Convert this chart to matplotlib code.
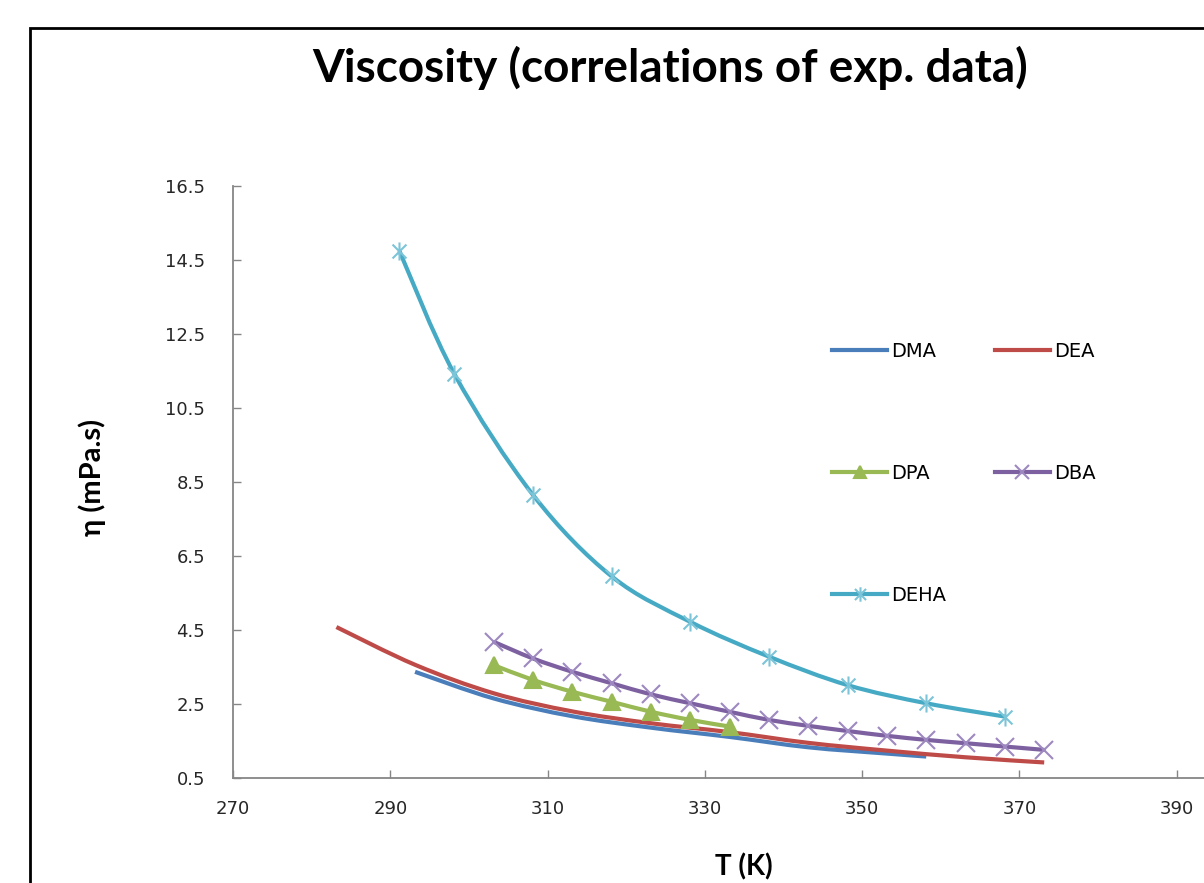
import numpy as np
import matplotlib.pyplot as plt
from matplotlib.path import Path
from matplotlib.patches import PathPatch, Rectangle
from matplotlib.lines import Line2D

# values (T in K, viscosity in mPa.s)
T_DMA = [293.15, 303.15, 313.15, 323.15, 333.15, 343.15, 353.15, 358.15]
eta_DMA = [3.37, 2.65, 2.17, 1.86, 1.61, 1.33, 1.16, 1.08]

T_DEA = [283.15, 293.15, 303.15, 313.15, 323.15, 333.15, 343.15, 353.15, 363.15, 373.15]
eta_DEA = [4.58, 3.56, 2.79, 2.30, 1.98, 1.74, 1.45, 1.24, 1.06, 0.92]

T_DPA = [303.15, 308.15, 313.15, 318.15, 323.15, 328.15, 333.15]
eta_DPA = [3.55, 3.15, 2.83, 2.56, 2.29, 2.07, 1.89]

T_DBA = [303.15, 308.15, 313.15, 318.15, 323.15, 328.15, 333.15, 338.15,
         343.15, 348.15, 353.15, 358.15, 363.15, 368.15, 373.15]
eta_DBA = [4.18, 3.73, 3.37, 3.06, 2.76, 2.52, 2.29, 2.07,
           1.91, 1.77, 1.64, 1.53, 1.44, 1.35, 1.26]

T_DEHA = [291.15, 298.15, 308.15, 318.15, 328.15, 338.15, 348.15, 358.15, 368.15]
eta_DEHA = [14.75, 11.42, 8.15, 5.95, 4.72, 3.78, 3.01, 2.52, 2.16]

x_ticks = [270, 290, 310, 330, 350, 370, 390]
y_ticks = [0.5, 2.5, 4.5, 6.5, 8.5, 10.5, 12.5, 14.5, 16.5]


def smooth_path(x, y):
    # Excel-like smoothed line: bezier segments through the data points
    p = np.column_stack([x, y])
    n = len(p)
    verts = [p[0]]
    codes = [Path.MOVETO]
    for i in range(n - 1):
        p0 = p[max(i - 1, 0)]
        p3 = p[min(i + 2, n - 1)]
        verts += [p[i] + (p[i + 1] - p0) / 6, p[i + 1] - (p3 - p[i]) / 6, p[i + 1]]
        codes += [Path.CURVE4] * 3
    return Path(verts, codes)


star = Path([(-1, -1), (1, 1), (-1, 1), (1, -1), (0, -1.3), (0, 1.3)],
            [Path.MOVETO, Path.LINETO, Path.MOVETO, Path.LINETO, Path.MOVETO, Path.LINETO])

series = [
    ("DMA", T_DMA, eta_DMA, "#4a7ebb", None, None),
    ("DEA", T_DEA, eta_DEA, "#be4b48", None, None),
    ("DPA", T_DPA, eta_DPA, "#98b954", "^", "#98b954"),
    ("DBA", T_DBA, eta_DBA, "#7d60a0", "x", "#9d88c0"),
    ("DEHA", T_DEHA, eta_DEHA, "#46aac5", star, "#7cc4d8"),
]

fig = plt.figure(figsize=(12.04, 8.83), dpi=100)
ax = fig.add_axes([233 / 1204, 105 / 883, 1101 / 1204, 592 / 883])

handles = {}
for name, tx, ty, col, mk, mcol in series:
    ax.add_patch(PathPatch(smooth_path(tx, ty), fill=False, edgecolor=col,
                           lw=3, capstyle='butt', zorder=2))
    ms = 11 if mk == "^" else 13
    if mk is not None:
        ax.plot(tx, ty, linestyle='none', marker=mk, ms=ms, color=mcol,
                mec=mcol, mew=1.5, zorder=3)
    handles[name] = Line2D([], [], color=col, lw=3, marker=mk, ms=ms * 0.8,
                           mfc=mcol, mec=mcol, mew=1.5)

ax.set_xlim(270, 410)
ax.set_ylim(0.5, 16.5)
ax.set_xticks(x_ticks)
ax.set_yticks(y_ticks)
ax.set_yticklabels([f"{v:.1f}" for v in y_ticks])
for s in ['top', 'right']:
    ax.spines[s].set_visible(False)
for s in ['left', 'bottom']:
    ax.spines[s].set_color('#868686')
    ax.spines[s].set_linewidth(1.3)
ax.tick_params(direction='in', length=6, width=1, color='#868686',
               labelsize=13, labelcolor='#262626')
ax.tick_params(axis='y', pad=20)
ax.tick_params(axis='x', pad=16)

order = ["DMA", "DPA", "DEHA", "DEA", "DBA"]
ax.legend([handles[k] for k in order], order, ncol=2, frameon=False,
          loc='upper left', bbox_to_anchor=(0.528, 0.766), fontsize=14,
          handlelength=2.85, handletextpad=0.2, labelspacing=5.3,
          columnspacing=2.5)

fig.text(670 / 1204, 1 - 68 / 883, "Viscosity (correlations of exp. data)",
         family='Lato', weight='bold', fontsize=33, ha='center', va='center')
fig.text(92 / 1204, 1 - 477 / 883, "\u03b7 (mPa.s)", family='Lato',
         weight='bold', fontsize=21, rotation=90, ha='center', va='center')
fig.text(744 / 1204, 1 - 867 / 883, "T (K)", family='Lato', weight='bold',
         fontsize=20, ha='center', va='center')

# black outer frame of the chart area (cropped on the right and bottom)
fig.add_artist(Rectangle((30 / 1204, -0.1), 1.2, 1 - 28 / 883 + 0.1,
                         transform=fig.transFigure, fill=False,
                         edgecolor='black', lw=2, clip_on=False))

fig.savefig('out.png', dpi=100)
